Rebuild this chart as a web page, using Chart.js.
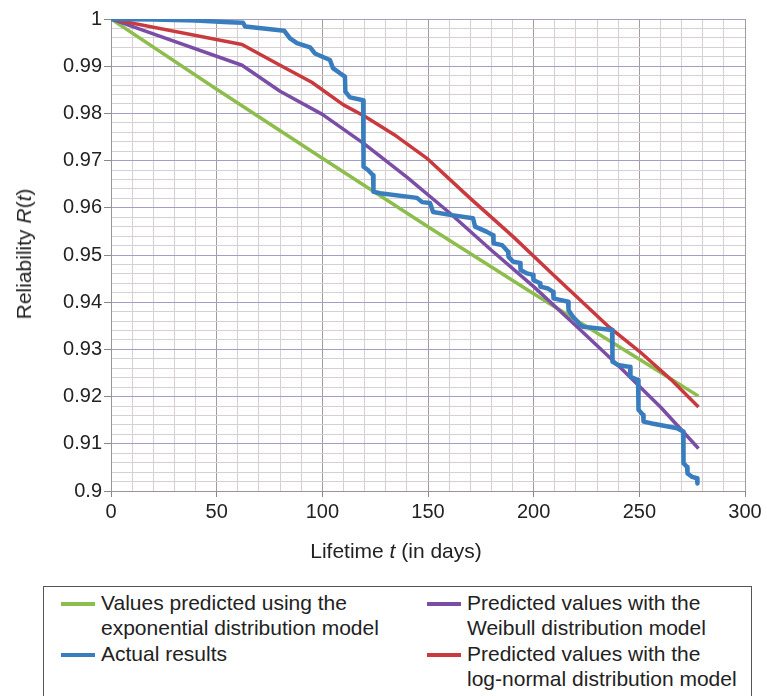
<!DOCTYPE html>
<html>
<head>
<meta charset="utf-8">
<script src="https://cdn.jsdelivr.net/npm/chart.js@4"></script>
<style>
	body { margin: 0; background: #fff; font-family: "Liberation Sans", Arial, sans-serif; color: #222; }
	#wrap { position: relative; width: 767px; height: 696px; overflow: hidden; }
	#chart-1 { position: absolute; left: 0; top: 0; }
	.ytitle { position: absolute; left: 24px; top: 254px; transform: translate(-50%, -50%) rotate(-90deg); font-size: 21px; white-space: nowrap; }
	.xtitle { position: absolute; left: 396px; top: 551px; transform: translate(-50%, -50%); font-size: 21px; white-space: nowrap; }
	#legend { position: absolute; left: 43px; top: 586px; width: 709px; height: 130px; border: 1px solid #555; box-sizing: border-box; }
	.item { position: absolute; font-size: 21px; line-height: 24.5px; }
	.item span.swatch { position: absolute; left: -40px; top: 11px; width: 34px; height: 4px; }
</style>
</head>
<body>
<div id="wrap">
	<canvas id="chart-1" width="767" height="575"></canvas>
	<div class="ytitle">Reliability <i>R</i>(<i>t</i>)</div>
	<div class="xtitle">Lifetime <i>t</i> (in days)</div>
	<div id="legend"></div>
</div>
<script>
// lifetime in days / reliability
var expDays = [0, 50, 100, 150, 200, 250, 278];
var expR = [1, 0.9851, 0.9705, 0.9560, 0.9418, 0.9279, 0.9201];

var weibDays = [0, 62, 80, 100, 120, 140, 160, 180, 200, 220, 240, 260, 278];
var weibR = [1, 0.9902, 0.9847, 0.9798, 0.9735, 0.9665, 0.9590, 0.9510, 0.9433, 0.9350, 0.9266, 0.9178, 0.9090];

var lognDays = [0, 62, 80, 95, 110, 120, 135, 150, 170, 190, 210, 235, 250, 265, 278];
var lognR = [1, 0.9946, 0.9902, 0.9866, 0.9818, 0.9794, 0.9752, 0.9703, 0.9620, 0.9540, 0.9455, 0.9350, 0.9296, 0.9236, 0.9178];

var actDays = [0, 20, 40, 56, 62.5, 63.5, 82, 84.7, 88, 94.2, 96.5, 103.6, 105, 108.4, 110.7, 110.9, 113.1, 119.3, 119.5,
	121.6, 124, 124.2, 127.3, 144.8, 147.2, 151, 152.4, 160.4, 171.3, 172.3, 177.9, 180.8, 181, 185, 187.9, 188.1,
	190.3, 193.6, 193.8, 196.9, 199.7, 199.9, 203, 203.2, 206.8, 209.2, 209.4, 212.5, 216.3, 216.5, 218.6, 222,
	223.4, 237.1, 237.3, 239.9, 245.6, 245.8, 249.4, 249.6, 251.8, 252, 256, 267.9, 270.7, 270.9, 272.6, 272.8,
	275, 277.3, 277.5];
var actR = [1, 0.9999, 0.9997, 0.9993, 0.9992, 0.9984, 0.9975, 0.9959, 0.9949, 0.9940, 0.9927, 0.9913, 0.9896, 0.9885, 0.9878, 0.9846, 0.9834, 0.9828, 0.9687,
	0.9680, 0.9669, 0.9634, 0.9631, 0.9621, 0.9612, 0.9610, 0.9591, 0.9585, 0.9578, 0.9560, 0.9549, 0.9542, 0.9525, 0.9521, 0.9507, 0.9496,
	0.9486, 0.9483, 0.9468, 0.9461, 0.9458, 0.9447, 0.9440, 0.9433, 0.9429, 0.9422, 0.9408, 0.9405, 0.9401, 0.9383, 0.9369, 0.9352,
	0.9348, 0.9341, 0.9274, 0.9267, 0.9263, 0.9242, 0.9235, 0.9172, 0.9161, 0.9147, 0.9143, 0.9133, 0.9126, 0.9059, 0.9051, 0.9037,
	0.9030, 0.9027, 0.9016];

var green = "#8dbd4c";
var blue = "#3a7dbf";
var purple = "#7a4ea6";
var red = "#c93a3f";

function pairs(xs, ys) {
	var out = [];
	for (var i = 0; i < xs.length; i++) {
		out.push({x: xs[i], y: ys[i]});
	}
	return out;
}

function isMajorY(v) {
	return Math.round(v * 1000) % 10 === 0;
}

var data1 = {
	datasets: [
		{ label: "Actual results", data: pairs(actDays, actR), borderColor: blue, borderWidth: 4.5, order: 0 },
		{ label: "Log-normal", data: pairs(lognDays, lognR), borderColor: red, borderWidth: 3.5, order: 1 },
		{ label: "Weibull", data: pairs(weibDays, weibR), borderColor: purple, borderWidth: 3.5, order: 2 },
		{ label: "Exponential", data: pairs(expDays, expR), borderColor: green, borderWidth: 3.5, order: 3 }
	]
};

var options1 = {
	responsive: false,
	animation: false,
	layout: { padding: { top: 19, right: 22, left: 0, bottom: 0 } },
	elements: { point: { radius: 0 }, line: { tension: 0, borderJoinStyle: "round" } },
	plugins: { legend: { display: false }, tooltip: { enabled: false } },
	scales: {
		x: {
			type: "linear",
			min: 0,
			max: 300,
			afterFit: function(scale) { scale.height = 84; },
			border: { color: "#9a9494" },
			grid: {
				color: function(ctx) { return ctx.tick && ctx.tick.value % 50 === 0 ? "#a49c9c" : "#d8d0d0"; },
				tickColor: function(ctx) { return ctx.tick && ctx.tick.value % 50 === 0 ? "#888" : "rgba(0,0,0,0)"; },
				tickLength: 6
			},
			ticks: {
				stepSize: 10,
				autoSkip: false,
				maxRotation: 0,
				padding: 3,
				color: "#222",
				font: { family: "Liberation Sans", size: 20 },
				callback: function(v) { return v % 50 === 0 ? v : ""; }
			}
		},
		y: {
			min: 0.9,
			max: 1,
			afterFit: function(scale) { scale.width = 111; },
			border: { color: "#9a9494" },
			grid: {
				color: function(ctx) { return ctx.tick && isMajorY(ctx.tick.value) ? "#a49dc4" : "#d8d0d0"; },
				tickColor: function(ctx) { return ctx.tick && isMajorY(ctx.tick.value) ? "#888" : "rgba(0,0,0,0)"; },
				tickLength: 7
			},
			ticks: {
				stepSize: 0.002,
				autoSkip: false,
				padding: 2,
				color: "#222",
				font: { family: "Liberation Sans", size: 20 },
				callback: function(v) { return isMajorY(v) ? String(+v.toFixed(2)) : ""; }
			}
		}
	}
};

var graph = new Chart("chart-1", {
	type: "line",
	data: data1,
	options: options1
});

// legend, two columns like the original
var legendItems = [
	{ text: "Values predicted using the<br>exponential distribution model", color: green, left: 57, top: 4 },
	{ text: "Actual results", color: blue, left: 57, top: 55 },
	{ text: "Predicted values with the<br>Weibull distribution model", color: purple, left: 423, top: 4 },
	{ text: "Predicted values with the<br>log-normal distribution model", color: red, left: 423, top: 55 }
];
var legendBox = document.getElementById("legend");
legendItems.forEach(function(it) {
	var d = document.createElement("div");
	d.className = "item";
	d.style.left = it.left + "px";
	d.style.top = it.top + "px";
	d.innerHTML = '<span class="swatch" style="background:' + it.color + '"></span>' + it.text;
	legendBox.appendChild(d);
});
</script>
</body>
</html>
